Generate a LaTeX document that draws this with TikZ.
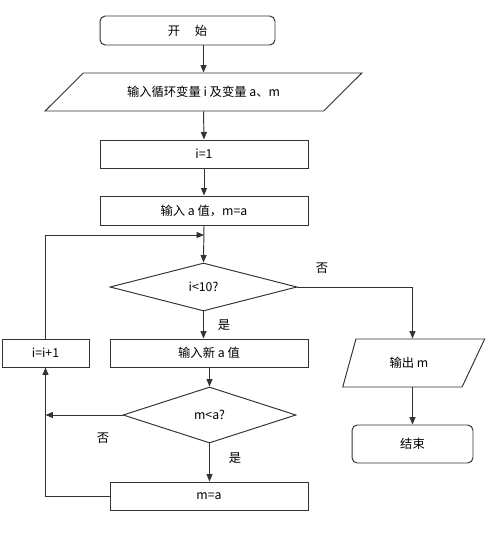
\documentclass[tikz,border=0pt]{standalone}
\usepackage{fontspec}
\setmainfont{Noto Sans CJK SC}
\usetikzlibrary{shapes.geometric,arrows.meta}
\begin{document}
\begin{tikzpicture}[x=0.02cm, y=-0.02cm, line width=0.55pt,
    >={Triangle[length=1.5mm,width=1.2mm]},
    every node/.style={font=\fontsize{7}{8}\selectfont, draw=black!80, inner sep=0pt},
    terminal/.style={rounded corners=3pt},
    process/.style={rectangle, minimum height=0.56cm},
    io/.style={trapezium, trapezium stretches=true},
    decision/.style={diamond, aspect=2},
    link/.style={->, draw=black!80},
    label/.style={draw=none}]
    \useasboundingbox (0,0) rectangle (500,550);

    % Main column
    \node[terminal, minimum width=3.5cm, minimum height=0.58cm] (start) at (187.5,30.5) {开\hspace{1.2em}始};
    \node[io, trapezium left angle=25.4, trapezium right angle=154.6, minimum width=6.34cm, minimum height=0.76cm] (input) at (203.5,92) {输入循环变量 i 及变量 a、m};
    \node[process, minimum width=4.16cm] (init) at (204,154) {i=1};
    \node[process, minimum width=4.16cm, minimum height=0.58cm] (read) at (204,210.5) {输入 a 值，m=a};
    \coordinate (join) at (204,235);
    \node[decision, minimum width=3.74cm, minimum height=0.96cm] (test) at (203.5,287) {i<10?};
    \node[process, minimum width=3.96cm] (newa) at (209,353) {输入新 a 值};
    \node[decision, minimum width=3.46cm, minimum height=1.12cm] (cmp) at (209.5,415) {m<a?};
    \node[process, minimum width=3.96cm] (assign) at (209,496) {m=a};

    % Loop counter
    \node[process, minimum width=1.74cm] (inc) at (45.5,353) {i=i+1};

    % Right column
    \node[io, trapezium left angle=67, trapezium right angle=126, minimum width=2.84cm, minimum height=0.96cm] (output) at (409,363) {输出 m};
    \node[terminal, minimum width=2.42cm, minimum height=0.76cm] (stop) at (412.5,444) {结束};

    % Connectors
    \draw[link] (start.south -| input.north) -- (input.north);
    \draw[link] (input.south) -- (init.north);
    \draw[link] (init.south) -- (read.north);
    \draw[link] (read.south) -- (test.north);
    \draw[link] (inc.north) |- (join);
    \draw[link] (test.east) -| (stop.north |- output.north);
    \draw[link] (test.south) -- (test.south |- newa.north);
    \draw[link] (newa.south -| cmp.north) -- (cmp.north);
    \draw[link] (cmp.west) -- (inc.south |- cmp.west);
    \draw[link] (cmp.south) -- (cmp.south |- assign.north);
    \draw[link] (assign.west) -| (inc.south);
    \draw[link] (stop.north |- output.south) -- (stop.north);

    % Labels
    \node[label] (no1) at (322,268) {否};
    \node[label] (yes1) at (224,325) {是};
    \node[label] (no2) at (103,438) {否};
    \node[label] (yes2) at (235,458) {是};
\end{tikzpicture}
\end{document}
